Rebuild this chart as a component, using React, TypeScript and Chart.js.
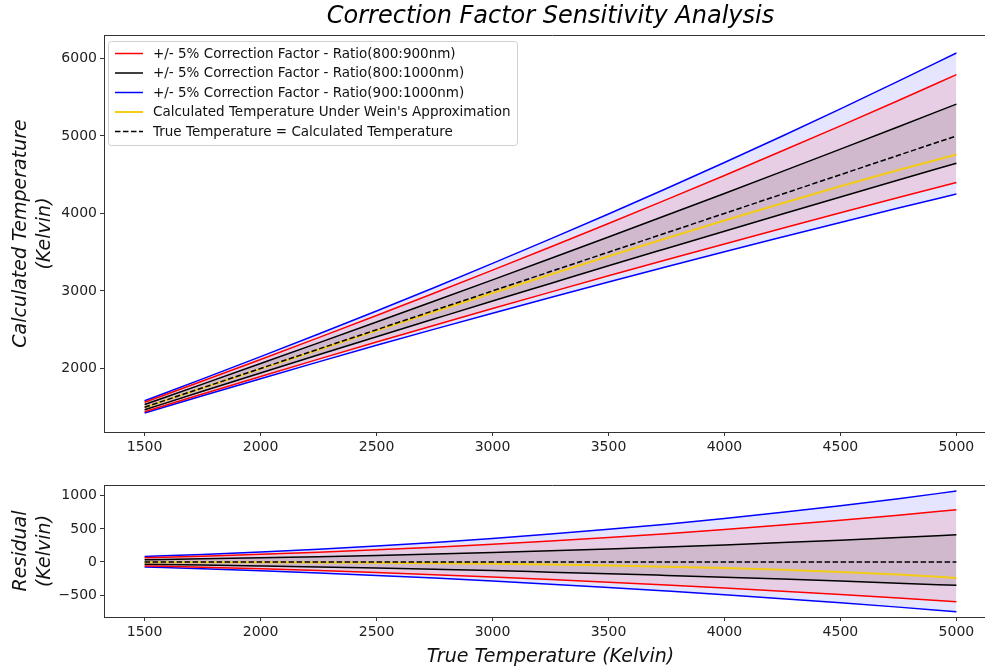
import { useEffect, useRef } from 'react';
import { Chart, registerables } from 'chart.js';

Chart.register(...registerables);
Chart.defaults.font.family = '"DejaVu Sans", "Liberation Sans", sans-serif';
Chart.defaults.color = '#111';

// True temperature samples (K)
const trueTemps = [1500, 1750, 2000, 2250, 2500, 2750, 3000, 3250, 3500, 3750, 4000, 4250, 4500, 4750, 5000];

// Calculated temperature with +5% / -5% correction factor, ratio 800:900 nm
const ratio800900High = [1564, 1838, 2116, 2397, 2683, 2973, 3268, 3566, 3870, 4178, 4490, 4808, 5130, 5457, 5790];
const ratio800900Low = [1441, 1670, 1897, 2120, 2340, 2558, 2773, 2985, 3195, 3402, 3606, 3808, 4008, 4205, 4400];

// ratio 800:1000 nm
const ratio8001000High = [1535, 1798, 2063, 2330, 2599, 2870, 3143, 3418, 3696, 3976, 4258, 4543, 4830, 5119, 5410];
const ratio8001000Low = [1467, 1705, 1941, 2176, 2409, 2640, 2870, 3097, 3324, 3548, 3771, 3993, 4213, 4431, 4648];

// ratio 900:1000 nm
const ratio9001000High = [1584, 1865, 2152, 2444, 2742, 3045, 3355, 3671, 3993, 4321, 4657, 4999, 5349, 5706, 6070];
const ratio9001000Low = [1425, 1648, 1868, 2085, 2298, 2507, 2713, 2916, 3116, 3312, 3506, 3696, 3884, 4069, 4251];

// Calculated temperature under Wien's approximation
const wienTemps = [1498, 1747, 1995, 2242, 2488, 2732, 2973, 3212, 3448, 3680, 3908, 4132, 4350, 4560, 4760];

const xTickValues = [1500, 2000, 2500, 3000, 3500, 4000, 4500, 5000];
const topTickValues = [2000, 3000, 4000, 5000, 6000];
const residualTickValues = [-500, 0, 500, 1000];

const legendLabels = [
  '+/- 5% Correction Factor - Ratio(800:900nm)',
  '+/- 5% Correction Factor - Ratio(800:1000nm)',
  '+/- 5% Correction Factor - Ratio(900:1000nm)',
  "Calculated Temperature Under Wein's Approximation",
  'True Temperature = Calculated Temperature',
];
const legendColors = ['#ff0000', '#000000', '#0000ff', '#f5cc15', '#000000'];
const legendDashed = [false, false, false, false, true];

const RED = '#ff0000';
const BLACK = '#000000';
const BLUE = '#0000ff';
const GOLD = '#f5cc15';
const DASH = [5.5, 2.5];

type Xform = (v: number, i: number) => number;

function series(values: number[], f: Xform) {
  return values.map((v, i) => ({ x: trueTemps[i], y: f(v, i) }));
}

function buildDatasets(f: Xform) {
  const line = (values: number[], color: string, extra: any = {}) => ({
    data: series(values, f),
    borderColor: color,
    borderWidth: 1.5,
    pointRadius: 0,
    cubicInterpolationMode: 'monotone',
    fill: false,
    ...extra,
  });
  return [
    line(trueTemps, BLACK, { borderDash: DASH }),
    line(wienTemps, GOLD, { borderWidth: 2 }),
    line(ratio8001000High, BLACK, { fill: '+1', backgroundColor: 'rgba(0,0,0,0.1)' }),
    line(ratio8001000Low, BLACK),
    line(ratio800900High, RED, { fill: '+1', backgroundColor: 'rgba(255,0,0,0.1)' }),
    line(ratio800900Low, RED),
    line(ratio9001000High, BLUE, { fill: '+1', backgroundColor: 'rgba(0,0,255,0.1)' }),
    line(ratio9001000Low, BLUE),
  ];
}

const fmt = (v: number | string) => String(v).replace('-', '\u2212');

const axisGrid = { drawOnChartArea: false, drawTicks: true, tickLength: 4, tickColor: '#333' };
const axisBorder = { display: true, color: '#333', width: 1 };
const tickFont = { size: 14 };

function xScale(withTitle: boolean, height: number) {
  return {
    type: 'linear',
    min: 1325,
    max: 5175,
    grid: axisGrid,
    border: axisBorder,
    afterBuildTicks: (s: any) => {
      s.ticks = xTickValues.map((v) => ({ value: v }));
    },
    afterFit: (s: any) => {
      s.height = height;
    },
    ticks: { font: tickFont, color: '#222', padding: 3, maxRotation: 0, callback: (v: any) => fmt(v) },
    title: withTitle
      ? {
          display: true,
          text: 'True Temperature (Kelvin)',
          font: { size: 19, style: 'italic', lineHeight: 1.2 },
          color: '#111',
          padding: { top: 0, bottom: 1 },
        }
      : { display: false },
  };
}

function yScale(min: number, max: number, tickValues: number[], title: string[]) {
  return {
    type: 'linear',
    min,
    max,
    grid: axisGrid,
    border: axisBorder,
    afterBuildTicks: (s: any) => {
      s.ticks = tickValues.map((v) => ({ value: v }));
    },
    afterFit: (s: any) => {
      s.width = 104;
    },
    ticks: { font: tickFont, color: '#222', padding: 3, callback: (v: any) => fmt(v) },
    title: {
      display: true,
      text: title,
      font: { size: 19, style: 'italic', lineHeight: 1.25 },
      color: '#111',
      padding: { top: 9, bottom: 0 },
    },
  };
}

// Top spine of the axes box
const topSpine = {
  id: 'topSpine',
  afterDraw(chart: any) {
    const { ctx, chartArea } = chart;
    ctx.save();
    ctx.strokeStyle = '#333';
    ctx.lineWidth = 1;
    ctx.beginPath();
    ctx.moveTo(chartArea.left, chartArea.top + 0.5);
    ctx.lineTo(chartArea.right + 5, chartArea.top + 0.5);
    ctx.stroke();
    ctx.restore();
  },
};

// Title and boxed legend of the main panel
const mainDecor = {
  id: 'mainDecor',
  afterDraw(chart: any) {
    const { ctx, chartArea } = chart;
    ctx.save();
    ctx.fillStyle = '#000';
    ctx.font = 'italic 24px "DejaVu Sans"';
    ctx.textAlign = 'center';
    ctx.textBaseline = 'middle';
    ctx.fillText('Correction Factor Sensitivity Analysis', (chartArea.left + chartArea.right) / 2, 17);

    const bx = 108;
    const by = 41;
    const bw = 409;
    const bh = 104;
    ctx.beginPath();
    ctx.roundRect(bx + 0.5, by + 0.5, bw, bh, 3);
    ctx.fillStyle = 'rgba(255,255,255,0.8)';
    ctx.fill();
    ctx.strokeStyle = '#d0d0d0';
    ctx.lineWidth = 1;
    ctx.stroke();

    ctx.font = '13.5px "DejaVu Sans"';
    ctx.textAlign = 'left';
    legendLabels.forEach((label, i) => {
      const y = 53.5 + i * 19.5;
      ctx.beginPath();
      ctx.setLineDash(legendDashed[i] ? DASH : []);
      ctx.strokeStyle = legendColors[i];
      ctx.lineWidth = i === 3 ? 2 : 1.5;
      ctx.moveTo(115, y);
      ctx.lineTo(143, y);
      ctx.stroke();
      ctx.setLineDash([]);
      ctx.fillStyle = '#111';
      ctx.fillText(label, 153, y + 0.5);
    });
    ctx.restore();
  },
};

export default function App() {
  const topRef = useRef<HTMLCanvasElement>(null);
  const bottomRef = useRef<HTMLCanvasElement>(null);

  useEffect(() => {
    const common = {
      responsive: false,
      animation: false,
      events: [],
      plugins: {
        legend: { display: false },
        tooltip: { enabled: false },
        filler: { drawTime: 'beforeDatasetsDraw' },
      },
    };

    const top = new Chart(topRef.current!, {
      type: 'line',
      data: { datasets: buildDatasets((v) => v) as any },
      options: {
        ...common,
        layout: { padding: { top: 35, right: 3, bottom: 0, left: 0 } },
        scales: {
          x: xScale(false, 30),
          y: yScale(1180, 6302, topTickValues, ['Calculated Temperature', '(Kelvin)']),
        },
      } as any,
      plugins: [topSpine, mainDecor],
    });

    const bottom = new Chart(bottomRef.current!, {
      type: 'line',
      data: { datasets: buildDatasets((v, i) => v - trueTemps[i]) as any },
      options: {
        ...common,
        layout: { padding: { top: 25, right: 3, bottom: 0, left: 0 } },
        scales: {
          x: xScale(true, 52),
          y: yScale(-830, 1162, residualTickValues, ['Residual', '(Kelvin)']),
        },
      } as any,
      plugins: [topSpine],
    });

    return () => {
      top.destroy();
      bottom.destroy();
    };
  }, []);

  return (
    <div
      style={{
        position: 'fixed',
        left: 0,
        top: 0,
        width: 985,
        height: 669,
        overflow: 'hidden',
        background: '#fff',
      }}
    >
      <canvas ref={topRef} width={1000} height={462} style={{ position: 'absolute', left: 0, top: 0 }} />
      <canvas ref={bottomRef} width={1000} height={209} style={{ position: 'absolute', left: 0, top: 460 }} />
    </div>
  );
}
